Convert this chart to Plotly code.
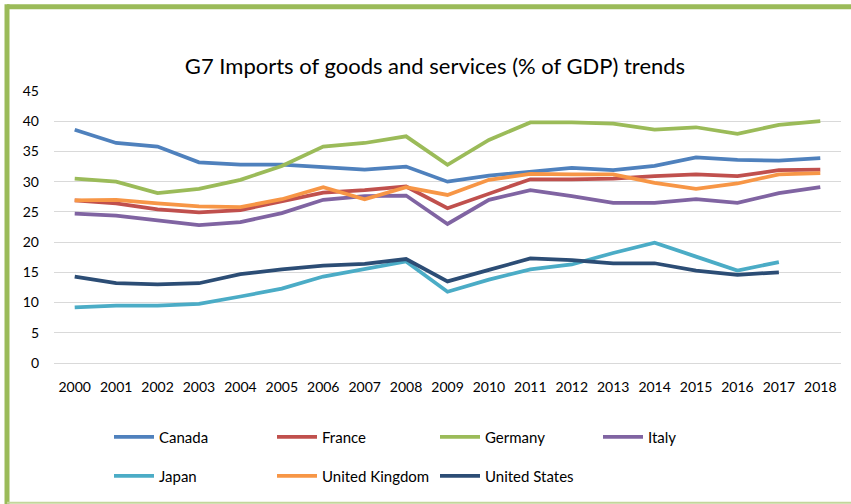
import plotly.graph_objects as go

# G7 imports of goods and services, % of GDP
years = [str(y) for y in range(2000, 2019)]

canada = [38.6, 36.4, 35.8, 33.2, 32.8, 32.8, 32.4, 32.0, 32.5, 30.0,
          31.0, 31.7, 32.3, 31.9, 32.6, 34.0, 33.6, 33.5, 33.9]
france = [26.9, 26.4, 25.4, 24.9, 25.3, 26.7, 28.2, 28.6, 29.2, 25.6,
          28.0, 30.4, 30.4, 30.5, 30.9, 31.2, 30.9, 31.9, 32.0]
germany = [30.5, 30.0, 28.1, 28.8, 30.3, 32.6, 35.8, 36.4, 37.5, 32.8,
           36.9, 39.8, 39.8, 39.6, 38.6, 39.0, 37.9, 39.4, 40.0]
italy = [24.7, 24.4, 23.6, 22.8, 23.3, 24.8, 27.0, 27.6, 27.7, 23.0,
         27.0, 28.6, 27.6, 26.5, 26.5, 27.1, 26.5, 28.1, 29.1]
japan = [9.2, 9.5, 9.5, 9.8, 11.0, 12.3, 14.3, 15.5, 16.8, 11.8,
         13.8, 15.5, 16.3, 18.2, 19.9, 17.6, 15.3, 16.7, None]
uk = [26.9, 27.0, 26.4, 25.9, 25.8, 27.1, 29.1, 27.1, 29.1, 27.8,
      30.3, 31.3, 31.2, 31.2, 29.8, 28.8, 29.7, 31.2, 31.4]
us = [14.3, 13.2, 13.0, 13.2, 14.7, 15.5, 16.1, 16.4, 17.2, 13.5,
      15.4, 17.3, 17.0, 16.5, 16.5, 15.3, 14.6, 15.0, None]

series = [
    ("Canada", canada, "#4F81BD", "legend"),
    ("France", france, "#C0504D", "legend"),
    ("Germany", germany, "#9BBB59", "legend"),
    ("Italy", italy, "#8064A2", "legend"),
    ("Japan", japan, "#4BACC6", "legend2"),
    ("United Kingdom", uk, "#F79646", "legend2"),
    ("United States", us, "#2C4D75", "legend2"),
]

y_ticks = list(range(0, 50, 5))

FONT = "Lato"
W, H = 851, 504

fig = go.Figure()
for name, vals, color, leg in series:
    fig.add_trace(go.Scatter(
        x=years, y=vals, name=name, mode="lines",
        line=dict(color=color, width=3.75, shape="linear"),
        connectgaps=False, legend=leg,
    ))

legend_common = dict(
    orientation="h", xref="container", yref="container",
    xanchor="left", yanchor="middle",
    font=dict(family=FONT, size=15, color="#000000"),
    entrywidth=108, entrywidthmode="pixels", itemwidth=40,
    bgcolor="rgba(0,0,0,0)", traceorder="normal",
)

fig.update_layout(
    width=W, height=H,
    margin=dict(l=54, r=10, t=91, b=141),
    paper_bgcolor="white", plot_bgcolor="white",
    font=dict(family=FONT, color="#000000"),
    title=dict(
        text="G7 Imports of goods and services (% of GDP) trends",
        font=dict(family=FONT, size=22, color="#000000"),
        xref="container", x=435 / W, xanchor="center",
        yref="container", y=1 - 66 / H, yanchor="middle",
    ),
    legend=dict(x=109 / W, y=1 - 437 / H, **legend_common),
    legend2=dict(x=109 / W, y=1 - 476 / H, **legend_common),
    xaxis=dict(
        type="category", range=[-0.5, 18.5],
        showgrid=False, showline=False, zeroline=False, ticks="",
        tickfont=dict(family=FONT, size=14, color="#000000"),
        ticklabelstandoff=14,
    ),
    yaxis=dict(
        range=[0, 45], tickvals=y_ticks,
        showgrid=True, gridcolor="#D9D9D9", gridwidth=1,
        zeroline=True, zerolinecolor="#D9D9D9", zerolinewidth=1,
        showline=False, ticks="",
        tickfont=dict(family=FONT, size=14, color="#000000"),
        ticklabelstandoff=14,
    ),
    shapes=[
        # green frame around the chart
        dict(type="line", xref="paper", yref="paper",
             x0=(7 - 54) / 787, x1=(860 - 54) / 787,
             y0=(363 - 6.7) / 272, y1=(363 - 6.7) / 272,
             line=dict(color="#9BBB59", width=5)),
        dict(type="line", xref="paper", yref="paper",
             x0=(7 - 54) / 787, x1=(7 - 54) / 787,
             y0=(363 - 4.2) / 272, y1=(363 - 504) / 272,
             line=dict(color="#9BBB59", width=5)),
        dict(type="line", xref="paper", yref="paper",
             x0=(7 - 54) / 787, x1=(860 - 54) / 787,
             y0=(363 - 502.8) / 272, y1=(363 - 502.8) / 272,
             line=dict(color="#C3D69B", width=2)),
    ],
)

fig.write_html("out.html")
